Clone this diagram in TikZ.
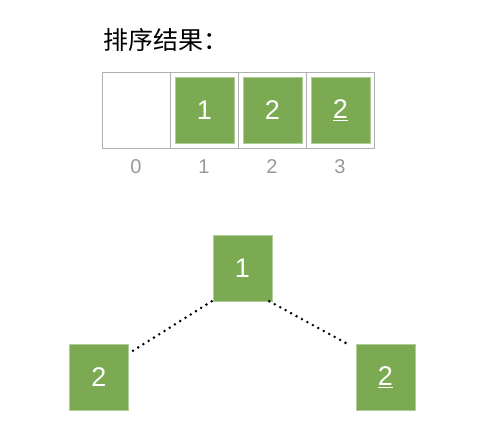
\documentclass[tikz,border=0pt]{standalone}
\usepackage{fontspec}
\setmainfont{Liberation Sans}
\newfontfamily\cjk{Noto Sans CJK SC}
\definecolor{leaf}{HTML}{7BAA52}
\definecolor{cellline}{HTML}{B0B0B0}
\definecolor{idx}{HTML}{999999}
\begin{document}
\begin{tikzpicture}[x=1pt,y=-1pt,
  cellbox/.style={draw=cellline,line width=0.8pt,minimum width=68pt,minimum height=76pt,inner sep=0pt,anchor=north west},
  greenbox/.style={fill=leaf,draw=leaf!60!white,line width=0.6pt,minimum width=59pt,minimum height=66pt,inner sep=0pt,text=white,font=\fontsize{27}{27}\selectfont},
  idxlabel/.style={text=idx,font=\fontsize{20}{20}\selectfont,inner sep=0pt},
  dotline/.style={line width=2.8pt,line cap=round,dash pattern=on 0pt off 6.2pt}]
\useasboundingbox (0,0) rectangle (487,444);
% title
\node[anchor=west,inner sep=0pt,font=\cjk\fontsize{25}{25}\selectfont] (title) at (103,40) {排序结果：};
% array cells
\node[cellbox] (c0) at (102,72) {};
\node[cellbox] (c1) at (170,72) {};
\node[cellbox] (c2) at (238,72) {};
\node[cellbox] (c3) at (306,72) {};
\node[greenbox] (g1) at (c1.center) {1};
\node[greenbox] (g2) at (c2.center) {2};
\node[greenbox] (g3) at (c3.center) {\underline{2}};
\node[idxlabel] (i0) at (136,167) {0};
\node[idxlabel] (i1) at (204,167) {1};
\node[idxlabel] (i2) at (272,167) {2};
\node[idxlabel] (i3) at (340,167) {3};
% tree
\node[greenbox] (t1) at (242.5,268) {1};
\node[greenbox] (t2) at (99,377) {2};
\node[greenbox] (t3) at (385.5,377) {\underline{2}};
\draw[dotline] ([xshift=-1pt]t1.south west) -- ([yshift=-9pt,xshift=1pt]t2.north east);
\draw[dotline] ([xshift=-3pt]t1.south east) -- ([yshift=-2pt,xshift=-5pt]t3.north west);
\end{tikzpicture}
\end{document}
